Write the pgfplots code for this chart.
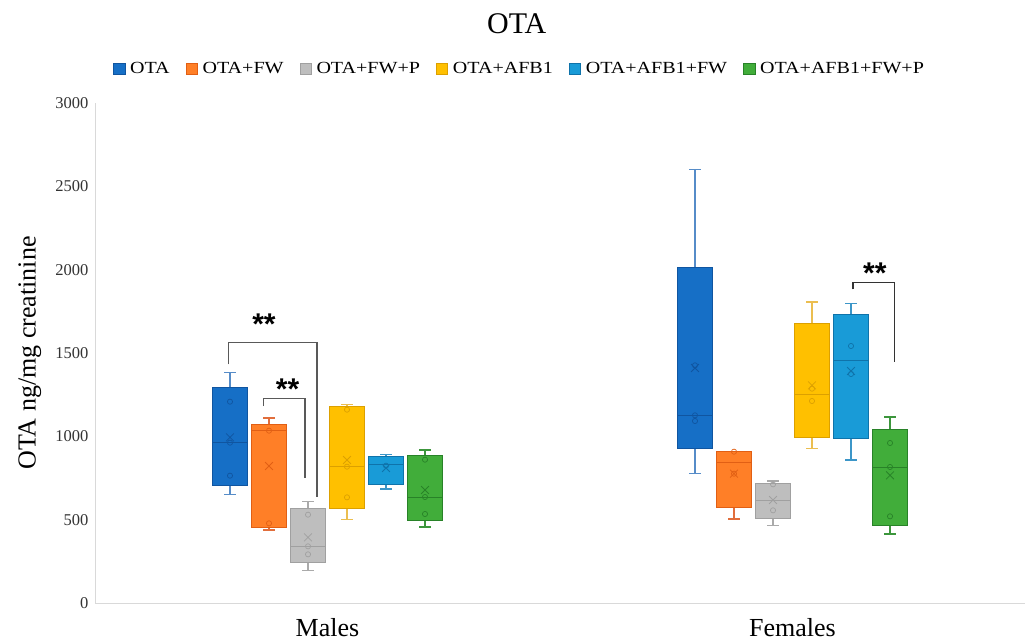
\documentclass[border=0pt]{standalone}
\usepackage{graphicx}
\usepackage{pgfplots}
\pgfplotsset{compat=1.18}
\usepackage{fontspec}
\setmainfont{Liberation Serif}
\newfontfamily\starfont{Liberation Sans}

\definecolor{cAF}{RGB}{22,111,198}\definecolor{cAE}{RGB}{16,85,160}\definecolor{cAW}{RGB}{86,140,200}
\definecolor{cBF}{RGB}{255,127,39}\definecolor{cBE}{RGB}{225,95,20}\definecolor{cBW}{RGB}{225,110,60}
\definecolor{cCF}{RGB}{190,190,190}\definecolor{cCE}{RGB}{160,160,160}\definecolor{cCW}{RGB}{170,170,170}
\definecolor{cDF}{RGB}{255,192,0}\definecolor{cDE}{RGB}{220,160,0}\definecolor{cDW}{RGB}{235,190,80}
\definecolor{cEF}{RGB}{25,155,215}\definecolor{cEE}{RGB}{15,115,170}\definecolor{cEW}{RGB}{60,150,200}
\definecolor{cGF}{RGB}{65,173,58}\definecolor{cGE}{RGB}{40,130,40}\definecolor{cGW}{RGB}{60,150,60}

% #1 colour, #2 position, #3 lower whisker, #4 lower quartile, #5 median,
% #6 upper quartile, #7 upper whisker, #8 mean, #9 data points
\newcommand{\bx}[9]{%
\pgfmathsetmacro\bxL{#2-0.038}\pgfmathsetmacro\bxR{#2+0.038}%
\pgfmathsetmacro\bcL{#2-0.0125}\pgfmathsetmacro\bcR{#2+0.0125}%
\addplot[forget plot, draw=#1W, line width=1.2pt] coordinates {(#2,#4) (#2,#3)};
\addplot[forget plot, draw=#1W, line width=1.2pt] coordinates {(\bcL,#3) (\bcR,#3)};
\addplot[forget plot, draw=#1W, line width=1.2pt] coordinates {(#2,#6) (#2,#7)};
\addplot[forget plot, draw=#1W, line width=1.2pt] coordinates {(\bcL,#7) (\bcR,#7)};
\addplot[forget plot, draw=#1E, fill=#1F, line width=1pt] coordinates {(\bxL,#4) (\bxR,#4) (\bxR,#6) (\bxL,#6)} -- cycle;
\addplot[forget plot, draw=#1E, line width=1pt] coordinates {(\bxL,#5) (\bxR,#5)};
\addplot[forget plot, only marks, mark=x, mark size=5.5pt, mark options={draw=#1E, line width=0.8pt}] coordinates {(#2,#8)};
\addplot[forget plot, only marks, mark=o, mark size=2.6pt, mark options={draw=#1E, fill=none, line width=0.7pt}] table[row sep=\\, x expr=#2, y=v] {v\\ #9};
}
\newcommand{\lt}[1]{\scalebox{1.18}[1]{#1}}

\begin{document}
\begin{tikzpicture}
\path[use as bounding box] (-95pt,-40pt) rectangle (932pt,603pt);
\begin{axis}[
  at={(0,0)}, anchor=south west,
  scale only axis, width=930pt, height=500pt,
  xmin=0, xmax=2, ymin=0, ymax=3000,
  axis x line=bottom, axis y line=left,
  axis line style={draw=black!15, line width=1pt, -},
  xtick={0.5,1.5}, xticklabels={Males,Females},
  ytick={0,500,...,3000},
  major tick length=0pt,
  /pgf/number format/assume math mode=true,
  /pgf/number format/1000 sep={},
  yticklabel style={font=\fontsize{16.5}{18}\selectfont, text=black!80, xshift=-3pt},
  xticklabel style={font=\fontsize{26}{30}\selectfont, yshift=-12pt},
  ylabel={OTA ng/mg creatinine},
  ylabel style={at={(axis description cs:-0.070,0.5)}, anchor=center, font=\fontsize{26}{30}\selectfont},
  legend style={at={(rel axis cs:0.4565,1.068)}, anchor=center, draw=none, fill=none,
    font=\fontsize{17}{20}\selectfont, legend columns=6,
    /tikz/every even column/.append style={column sep=14pt}},
  legend image code/.code={\draw[#1] (0pt,-5.5pt) rectangle (11.5pt,5.5pt); \path (14.5pt,0pt);},
  clip=false,
]
\addlegendimage{draw=cAE, fill=cAF}\addlegendentry{\lt{OTA}}
\addlegendimage{draw=cBE, fill=cBF}\addlegendentry{\lt{OTA+FW}}
\addlegendimage{draw=cCE, fill=cCF}\addlegendentry{\lt{OTA+FW+P}}
\addlegendimage{draw=cDE, fill=cDF}\addlegendentry{\lt{OTA+AFB1}}
\addlegendimage{draw=cEE, fill=cEF}\addlegendentry{\lt{OTA+AFB1+FW}}
\addlegendimage{draw=cGE, fill=cGF}\addlegendentry{\lt{OTA+AFB1+FW+P}}

% Males
\bx{cA}{0.2903}{650}{706}{962}{1294}{1384}{994}{1208\\ 962\\ 764\\}
\bx{cB}{0.3742}{438}{454}{1034}{1074}{1110}{822}{1034\\ 478\\}
\bx{cC}{0.4581}{196}{244}{340}{568}{608}{394}{530\\ 340\\ 292\\}
\bx{cD}{0.5419}{500}{568}{818}{1178}{1190}{858}{1160\\ 818\\ 634\\}
\bx{cE}{0.6258}{684}{712}{830}{878}{890}{810}{824\\}
\bx{cG}{0.7097}{456}{494}{636}{884}{918}{678}{860\\ 636\\ 534\\}
% Females
\bx{cA}{1.2903}{776}{930}{1126}{2014}{2600}{1410}{1426\\ 1126\\ 1092\\}
\bx{cB}{1.3742}{504}{574}{842}{908}{908}{776}{908\\ 776\\}
\bx{cC}{1.4581}{466}{510}{614}{718}{732}{618}{712\\ 556\\}
\bx{cD}{1.5419}{926}{996}{1252}{1676}{1806}{1306}{1286\\ 1212\\}
\bx{cE}{1.6258}{858}{988}{1458}{1732}{1796}{1392}{1542\\ 1374\\}
\bx{cG}{1.7097}{414}{466}{816}{1040}{1116}{766}{960\\ 816\\ 520\\}

% significance brackets
\draw[black!65, line width=1.2pt] (axis cs:0.2866,1432) |- (axis cs:0.4774,1564) -- (axis cs:0.4774,638);
\draw[black!65, line width=1.2pt] (axis cs:0.3628,1182) |- (axis cs:0.4516,1228) -- (axis cs:0.4516,750);
\draw[black!80, line width=1.2pt] (axis cs:1.630,1882) |- (axis cs:1.719,1922) -- (axis cs:1.719,1444);
\node[font=\starfont\bfseries\fontsize{30}{32}\selectfont, anchor=base, inner sep=0pt, yshift=-15pt] at (axis cs:0.3634,1700) {**};
\node[font=\starfont\bfseries\fontsize{30}{32}\selectfont, anchor=base, inner sep=0pt, yshift=-15pt] at (axis cs:0.414,1310) {**};
\node[font=\starfont\bfseries\fontsize{30}{32}\selectfont, anchor=base, inner sep=0pt, yshift=-15pt] at (axis cs:1.677,2010) {**};

\node[font=\fontsize{30}{34}\selectfont] at (rel axis cs:0.4535,1.158) {OTA};
\end{axis}
\end{tikzpicture}
\end{document}
